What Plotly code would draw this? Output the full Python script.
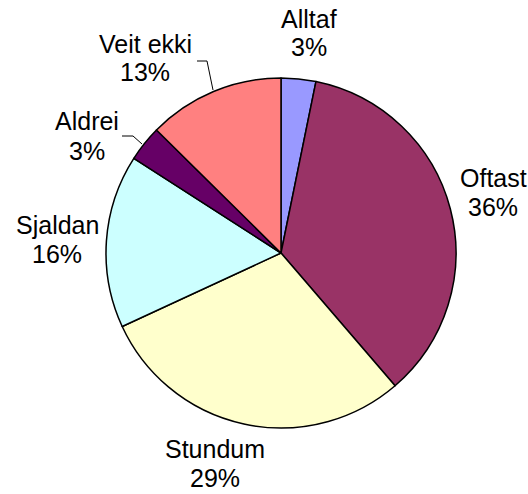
import plotly.graph_objects as go

# answers, clockwise from 12 o'clock
labels = ["Alltaf", "Oftast", "Stundum", "Sjaldan", "Aldrei", "Veit ekki"]
values = [3.2, 35.5, 29.4, 16.0, 3.3, 12.6]
colors = ["#9999FF", "#993366", "#FFFFCC", "#CCFFFF", "#660066", "#FF8080"]

# centre of each two-line label (pixels in the 528x494 page)
label_x = [309, 493, 215, 57, 87, 145]
label_y = [33, 192, 463, 239, 136, 58]

W, H = 528, 494
FONT = dict(family="Liberation Sans, Arial", size=25, color="black")

fig = go.Figure()

fig.add_trace(go.Pie(
    labels=labels,
    values=values,
    sort=False,
    direction="clockwise",
    rotation=0,
    marker=dict(colors=colors, line=dict(color="black", width=1.5)),
    textinfo="none",
    hoverinfo="label+percent",
    domain=dict(x=[(281 - 175) / W, (281 + 175) / W],
                y=[1 - 428 / H, 1 - 78 / H]),
))

total = sum(values)
for lab, v, x, y in zip(labels, values, label_x, label_y):
    # name on top, percent below, ~29px apart
    for txt, dy in [(lab, -14.5), (f"{round(100 * v / total)}%", 14.5)]:
        fig.add_annotation(
            x=x / W, y=1 - (y + dy) / H, xref="paper", yref="paper",
            text=txt, showarrow=False, xanchor="center", yanchor="middle",
            font=FONT,
        )

# leader lines for the two labels that sit away from their slices
leaders = [
    [(197, 61), (207, 61), (213, 90)],
    [(122, 136), (133, 136), (142, 144)],
]
for pts in leaders:
    for (x0, y0), (x1, y1) in zip(pts[:-1], pts[1:]):
        fig.add_shape(type="line", xref="paper", yref="paper",
                      x0=x0 / W, y0=1 - y0 / H, x1=x1 / W, y1=1 - y1 / H,
                      line=dict(color="black", width=1))

fig.update_layout(
    width=W, height=H,
    margin=dict(l=0, r=0, t=0, b=0),
    showlegend=False,
    paper_bgcolor="white",
    plot_bgcolor="white",
)

fig.write_html("out.html", config={"displayModeBar": False},
               post_script="document.body.style.margin='0';")
